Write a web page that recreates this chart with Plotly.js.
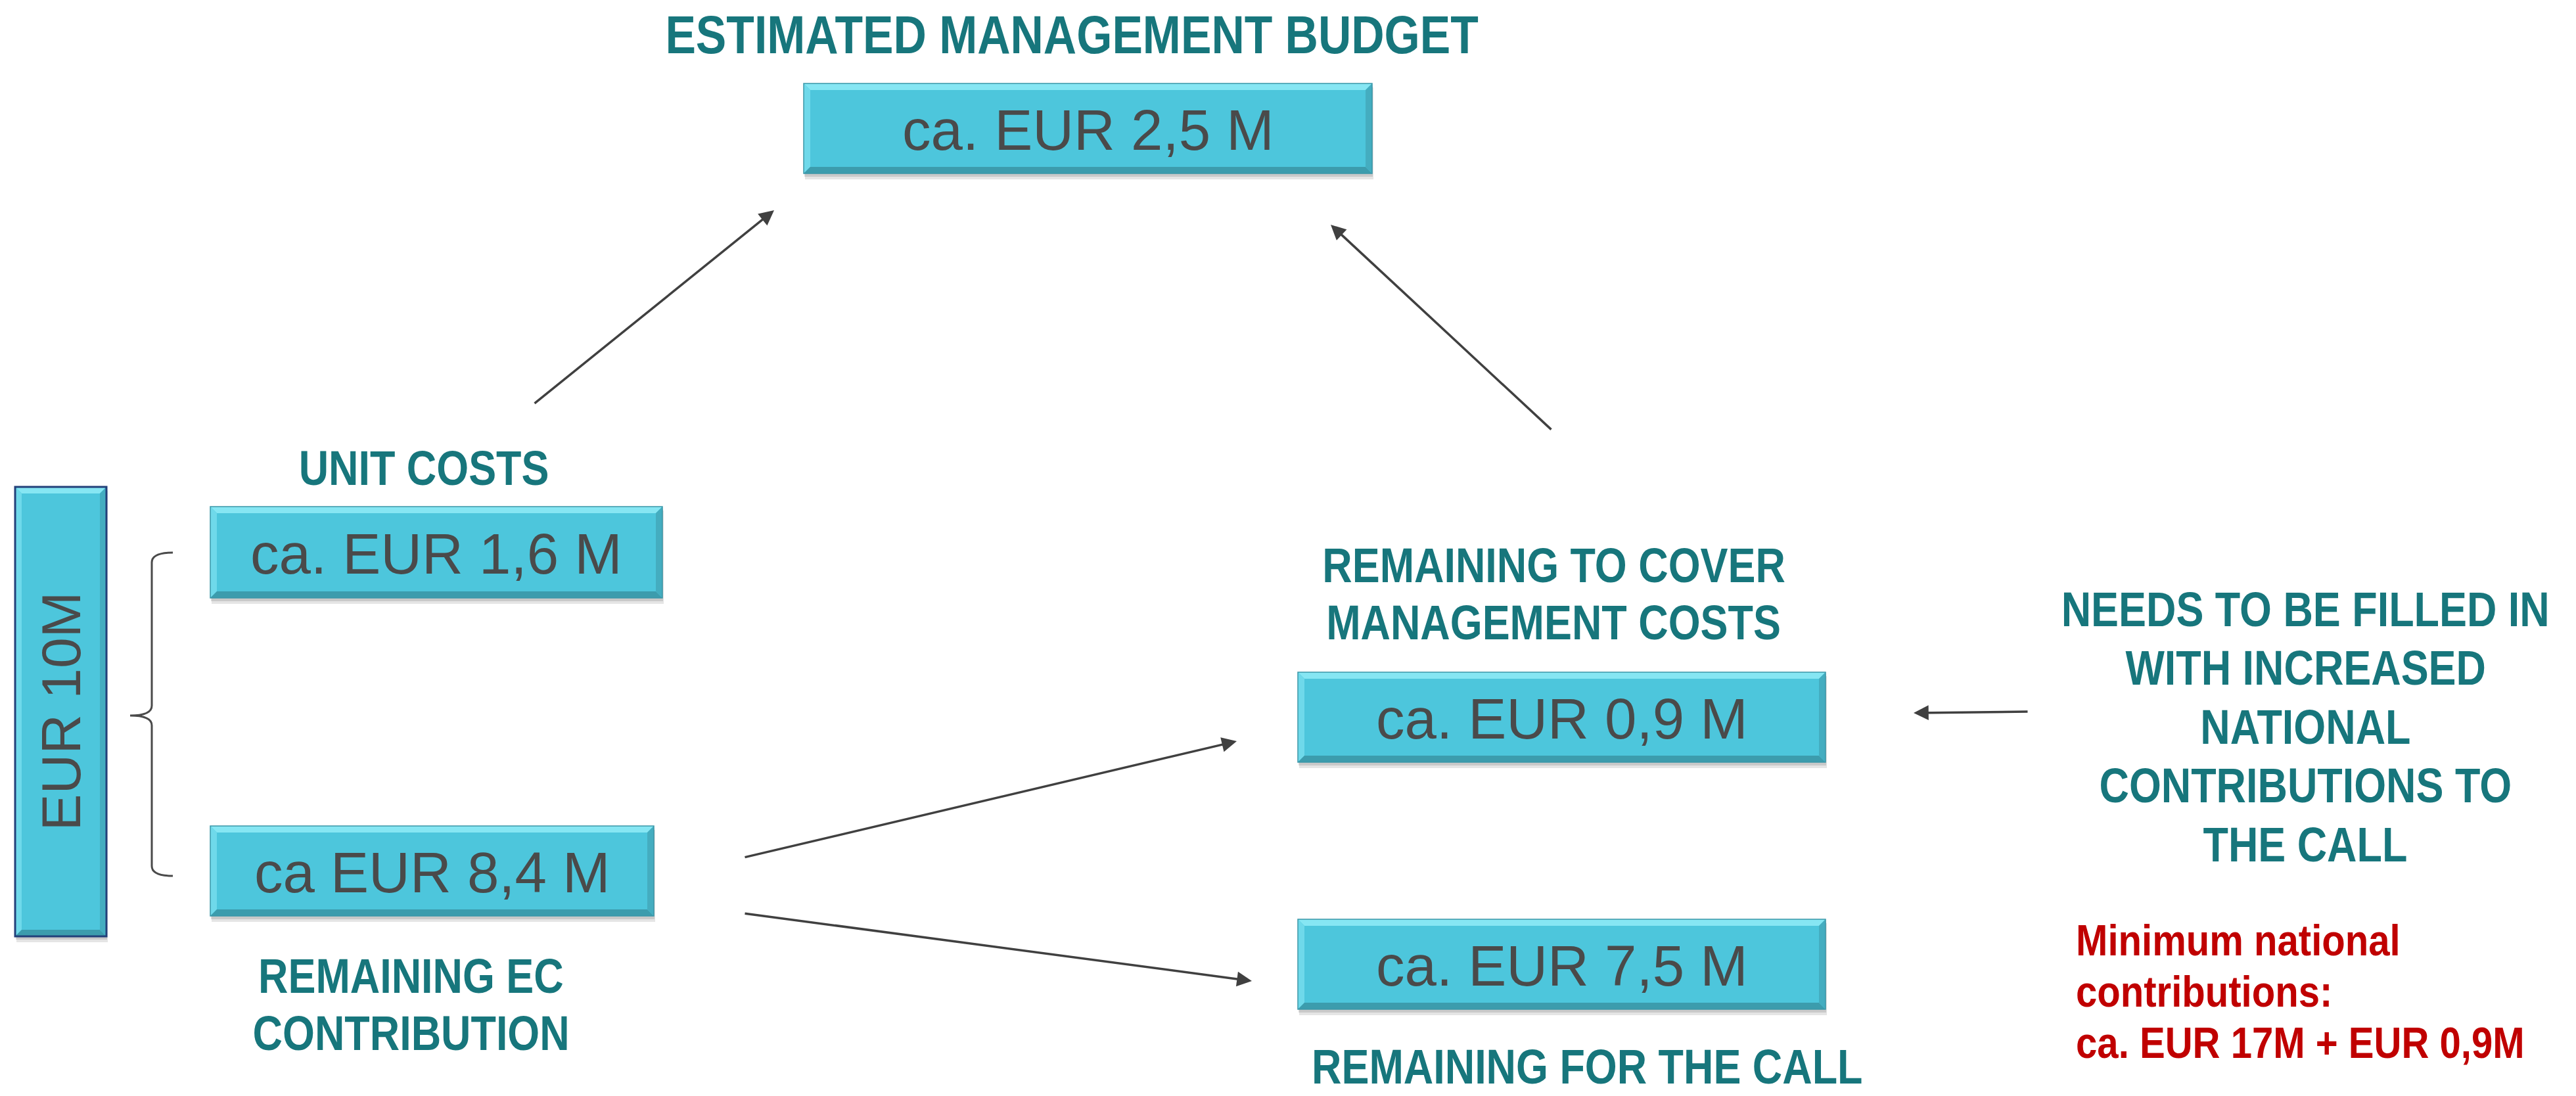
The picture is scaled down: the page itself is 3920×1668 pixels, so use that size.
<!DOCTYPE html>
<html>
<head>
<meta charset="utf-8">
<script src="https://cdn.plot.ly/plotly-3.0.1.min.js"></script>
<style>html,body{margin:0;padding:0;background:#fff;}#chart{width:3920px;height:1668px;}</style>
</head>
<body>
<div id="chart"></div>
<script>
// ---- data ----
var boxValues = ['ca. EUR 2,5 M', 'ca. EUR 1,6 M', 'ca EUR 8,4 M', 'ca. EUR 0,9 M', 'ca. EUR 7,5 M'];
var totalLabel = 'EUR 10M';
var headingTitle = ['ESTIMATED MANAGEMENT BUDGET'];
var headingUnit = ['UNIT COSTS'];
var headingEC = ['REMAINING EC', 'CONTRIBUTION'];
var headingCover = ['REMAINING TO COVER', 'MANAGEMENT COSTS'];
var headingCall = ['REMAINING FOR THE CALL'];
var headingNeeds = ['NEEDS TO BE FILLED IN', 'WITH INCREASED', 'NATIONAL', 'CONTRIBUTIONS TO', 'THE CALL'];
var noteLines = ['Minimum national', 'contributions:', 'ca. EUR 17M + EUR 0,9M'];
// flows between items (arrows)
var flowFrom = ['unit', 'cover', 'ec', 'ec', 'needs'];
var flowTo = ['mgmt', 'mgmt', 'cover', 'call', 'cover'];

// ---- layout geometry (pixels) ----
var boxGeom = [
  [1223, 2088, 127, 264],
  [320, 1008, 771, 910],
  [320, 995, 1257, 1394],
  [1975, 2778, 1023, 1160],
  [1975, 2778, 1399, 1536]
];
var totalGeom = [23, 162, 741, 1425];
var arrowGeom = {
  'unit>mgmt': [812, 615, 1178, 320],
  'cover>mgmt': [2362, 655, 2025, 342],
  'ec>cover': [1132, 1305, 1882, 1128],
  'ec>call': [1132, 1390, 1905, 1493],
  'needs>cover': [3087, 1083, 2912, 1085]
};

var TEAL = '#17767c', GREY = '#4a4a4a', RED = '#c00000';
var FILL = '#4dc6dc';
var FONT = '"Liberation Sans", Arial, sans-serif';
var shapes = [], ann = [], condense = {};

function bevelBox(g, border) {
  var x0 = g[0], x1 = g[1], y0 = g[2], y1 = g[3], b = 10;
  shapes.push({type: 'rect', xref: 'x', yref: 'y', x0: x0 + 2, x1: x1 + 2, y0: y0 + 6, y1: y1 + 9,
    fillcolor: 'rgba(0,0,0,0.10)', line: {width: 0}, layer: 'below'});
  shapes.push({type: 'rect', xref: 'x', yref: 'y', x0: x0 + 1, x1: x1 + 1, y0: y0 + 3, y1: y1 + 5,
    fillcolor: 'rgba(0,0,0,0.12)', line: {width: 0}, layer: 'below'});
  shapes.push({type: 'rect', xref: 'x', yref: 'y', x0: x0, x1: x1, y0: y0, y1: y1,
    fillcolor: FILL, line: {width: 0}});
  function poly(pts, c) {
    var p = 'M' + pts.map(function (q) { return q[0] + ',' + q[1]; }).join(' L') + ' Z';
    shapes.push({type: 'path', xref: 'x', yref: 'y', path: p, fillcolor: c, line: {width: 0}});
  }
  poly([[x0, y0], [x1, y0], [x1 - b, y0 + b], [x0 + b, y0 + b]], '#86e6f3');
  poly([[x0, y0], [x0 + b, y0 + b], [x0 + b, y1 - b], [x0, y1]], '#6fd9ea');
  poly([[x0, y1], [x0 + b, y1 - b], [x1 - b, y1 - b], [x1, y1]], '#3c9cad');
  poly([[x1, y0], [x1, y1], [x1 - b, y1 - b], [x1 - b, y0 + b]], '#44adc0');
  shapes.push({type: 'rect', xref: 'x', yref: 'y', x0: x0, x1: x1, y0: y0, y1: y1,
    fillcolor: 'rgba(0,0,0,0)', line: {width: border ? 3 : 1.5, color: border ? '#22407a' : '#3a97a8'}});
}

function text(t, x, y, size, color, bold, xanchor, angle, yanchor, sx) {
  if (sx) condense[ann.length] = {sx: sx, origin: (xanchor === 'left' ? 'left center' : 'center')};
  ann.push({x: x, y: y, xref: 'x', yref: 'y', text: bold ? '<b>' + t + '</b>' : t, showarrow: false,
    xanchor: xanchor || 'center', yanchor: yanchor || 'middle', textangle: angle || 0,
    font: {family: FONT, size: size, color: color}});
}

boxValues.forEach(function (v, i) {
  var g = boxGeom[i];
  bevelBox(g, false);
  text(v, (g[0] + g[1]) / 2, (g[2] + g[3]) / 2 + 2, 87, GREY, false);
});
bevelBox(totalGeom, true);
text(totalLabel, (totalGeom[0] + totalGeom[1]) / 2, (totalGeom[2] + totalGeom[3]) / 2, 84, GREY, false, 'center', -90);

function lines(arr, x, y0, dy, size, color, bold, xanchor, sx) {
  arr.forEach(function (t, i) { text(t, x, y0 + i * dy, size, color, bold, xanchor, 0, 'middle', sx); });
}
var SX = 0.85;
lines(headingTitle, 1631, 52, 0, 82, TEAL, true, 'center', SX);
lines(headingUnit, 645, 712, 0, 74, TEAL, true, 'center', SX);
lines(headingEC, 625, 1485, 87, 74, TEAL, true, 'center', SX);
lines(headingCover, 2364, 860, 87, 74, TEAL, true, 'center', SX);
lines(headingNeeds, 3508, 927, 89.5, 74, TEAL, true, 'center', SX);
lines(noteLines, 3157, 1431, 78, 66, RED, true, 'left', 0.88);
// bottom heading anchored so it stays inside the page
text(headingCall[0], 2415, 1667, 74, TEAL, true, 'center', 0, 'bottom', SX);

// brace
shapes.push({type: 'path', xref: 'x', yref: 'y',
  path: 'M263,841 Q231,841 231,856 L231,1074 Q231,1089 198,1089 Q231,1089 231,1104 L231,1318 Q231,1333 263,1333',
  line: {color: '#4a4a4a', width: 3}, fillcolor: 'rgba(0,0,0,0)'});

// arrows
flowFrom.forEach(function (f, i) {
  var g = arrowGeom[f + '>' + flowTo[i]];
  ann.push({x: g[2], y: g[3], ax: g[0], ay: g[1], xref: 'x', yref: 'y', axref: 'x', ayref: 'y',
    text: '', showarrow: true, arrowhead: 2, arrowsize: 1.3, arrowwidth: 3.5, arrowcolor: '#404040', standoff: 0});
});

var layout = {
  width: 3920, height: 1668,
  margin: {l: 0, r: 0, t: 0, b: 0},
  paper_bgcolor: '#ffffff', plot_bgcolor: '#ffffff',
  xaxis: {range: [0, 3920], visible: false, fixedrange: true},
  yaxis: {range: [1668, 0], visible: false, fixedrange: true},
  showlegend: false,
  shapes: shapes,
  annotations: ann
};
Plotly.newPlot('chart', [{x: [], y: [], type: 'scatter', mode: 'markers'}], layout, {displayModeBar: false, staticPlot: true})
  .then(function () {
    document.querySelectorAll('#chart g.annotation').forEach(function (g) {
      var c = condense[+g.getAttribute('data-index')];
      if (!c) return;
      var t = g.querySelector('text.annotation-text');
      if (!t) return;
      t.style.transformBox = 'fill-box';
      t.style.transformOrigin = c.origin;
      t.style.transform = 'scaleX(' + c.sx + ')';
    });
  });
</script>
</body>
</html>
